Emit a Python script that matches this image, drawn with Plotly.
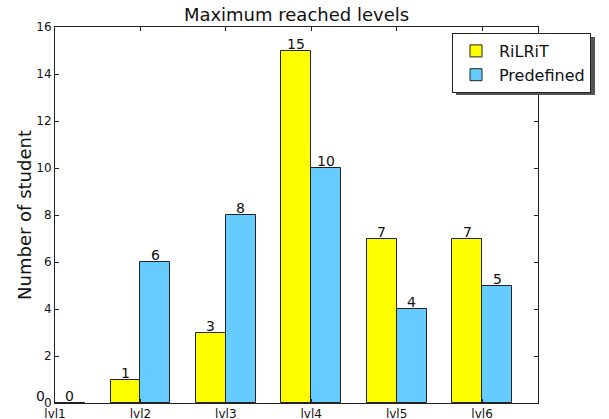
import plotly.graph_objects as go

categories = ["lvl1", "lvl2", "lvl3", "lvl4", "lvl5", "lvl6"]
rilrit = [0, 1, 3, 15, 7, 7]
predefined = [0, 6, 8, 10, 4, 5]

idx = list(range(len(categories)))
W = 0.35
XR = [0, 5.655]
FONT = "DejaVu Sans"

fig = go.Figure()
fig.add_trace(go.Bar(
    x=idx, y=rilrit, name="RiLRiT", width=W, offset=-W,
    marker=dict(color="#FFFF00", line=dict(color="#222222", width=1)),
))
fig.add_trace(go.Bar(
    x=idx, y=predefined, name="Predefined", width=W, offset=0,
    marker=dict(color="#66CCFF", line=dict(color="#222222", width=1)),
))

# value labels centred on each bar, placed just above its top
for series, shift in ((rilrit, -W / 2), (predefined, W / 2)):
    for i, v in zip(idx, series):
        fig.add_annotation(
            x=(i + shift - XR[0]) / (XR[1] - XR[0]), xref="paper",
            y=v, yref="y", yanchor="bottom", xanchor="center",
            text=str(v), showarrow=False, borderpad=0, yshift=-2,
            font=dict(family=FONT, size=14, color="#111111"),
        )

# legend shadow
fig.add_shape(type="rect", xref="paper", yref="paper",
              x0=(456 - 55) / 483, x1=(595 - 55) / 483,
              y0=(403 - 95) / 376, y1=(403 - 37) / 376,
              fillcolor="#555555", line=dict(width=0), layer="above")

fig.update_layout(
    width=609, height=419,
    margin=dict(l=55, r=71, t=27, b=16, autoexpand=False),
    paper_bgcolor="white", plot_bgcolor="white",
    font=dict(family=FONT, size=12, color="#111111"),
    title=dict(text="Maximum reached levels", x=0.5, xref="paper", xanchor="center",
               y=1 - 15 / 419, yref="container", yanchor="middle",
               font=dict(family=FONT, size=18, color="#111111")),
    showlegend=True,
    legend=dict(x=(452 - 55) / 483, y=(403 - 33) / 376, xanchor="left", yanchor="top",
                bgcolor="white", bordercolor="#222222", borderwidth=1,
                font=dict(family=FONT, size=16, color="#111111"),
                itemwidth=36, traceorder="normal"),
    bargap=0,
)
fig.update_xaxes(range=XR, tickmode="array", tickvals=idx, ticktext=categories,
                 ticks="inside", ticklen=4, tickcolor="#222222", showline=True,
                 linecolor="#222222", linewidth=1, mirror="ticks", showgrid=False,
                 zeroline=False, tickfont=dict(size=12), automargin=False,
                 ticklabelstandoff=0)
fig.update_yaxes(range=[0, 16], tickvals=list(range(0, 17, 2)),
                 ticks="inside", ticklen=4, tickcolor="#222222", showline=True,
                 linecolor="#222222", linewidth=1, mirror="ticks", showgrid=False,
                 zeroline=False, tickfont=dict(size=12), automargin=False,
                 title=dict(text="Number of student", font=dict(size=18), standoff=0))

fig.write_html("out.html", config={"displayModeBar": False},
               post_script="document.body.style.margin='0';document.body.style.overflow='hidden';")
